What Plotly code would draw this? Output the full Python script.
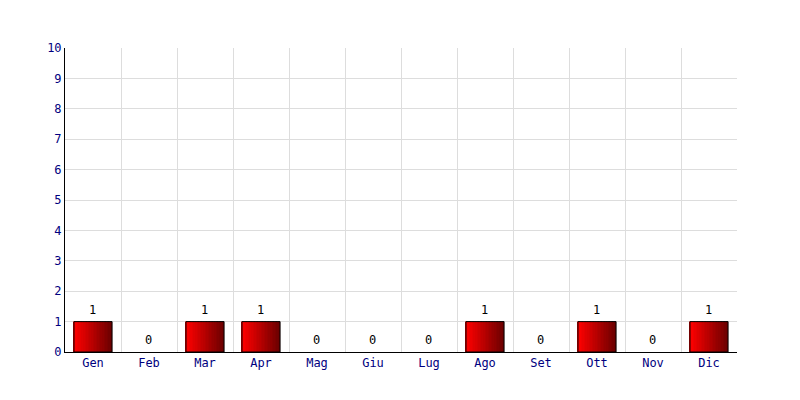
import plotly.graph_objects as go

months = ["Gen", "Feb", "Mar", "Apr", "Mag", "Giu", "Lug", "Ago", "Set", "Ott", "Nov", "Dic"]
values = [1, 0, 1, 1, 0, 0, 0, 1, 0, 1, 0, 1]

fig = go.Figure()

bar_w = 0.68
n = 24
c0 = (255, 0, 0)
c1 = (110, 0, 0)
for i in range(n):
    t = i / (n - 1)
    col = tuple(round(c0[k] + (c1[k] - c0[k]) * t) for k in range(3))
    fig.add_trace(go.Bar(
        x=months, y=values,
        width=bar_w / n + 0.002,
        offset=-bar_w / 2 + i * bar_w / n,
        marker=dict(color="rgb(%d,%d,%d)" % col, line=dict(width=0)),
        hoverinfo="skip", showlegend=False,
    ))

fig.add_trace(go.Bar(
    x=months, y=values,
    width=bar_w, offset=-bar_w / 2,
    marker=dict(color="rgba(0,0,0,0)",
                line=dict(color="black", width=[1 if v else 0 for v in values])),
    showlegend=False,
))

for m, v in zip(months, values):
    fig.add_annotation(x=m, y=v, text=str(v), showarrow=False,
                       yanchor="bottom", yshift=3, xshift=-1,
                       font=dict(family="DejaVu Sans Mono", size=12, color="black"))

fig.update_layout(
    width=800, height=400,
    margin=dict(l=57, r=71, t=40, b=56),
    paper_bgcolor="white", plot_bgcolor="white",
    barmode="overlay",
    font=dict(family="DejaVu Sans Mono", size=12, color="#000080"),
    xaxis=dict(type="category", tickson="boundaries", showgrid=True,
               gridcolor="#dddddd", gridwidth=1, showline=True,
               linecolor="black", linewidth=1, ticks="", mirror=False,
               tickfont=dict(color="#000080", size=12), fixedrange=True),
    yaxis=dict(range=[0, 10], dtick=1, showgrid=True, gridcolor="#dddddd",
               showline=True, linecolor="black", linewidth=1, ticks="",
               zeroline=False, tickfont=dict(color="#000080", size=12),
               fixedrange=True),
)

fig.write_html("out.html")
